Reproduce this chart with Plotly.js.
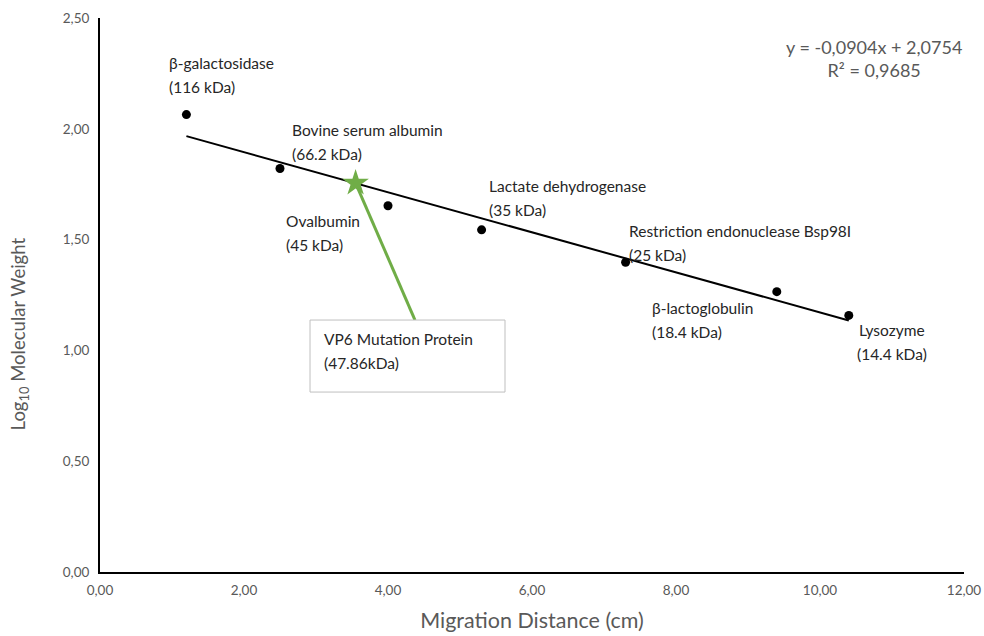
<!DOCTYPE html>
<html>
<head>
<meta charset="utf-8">
<script src="https://cdn.plot.ly/plotly-3.0.1.min.js"></script>
<style>html,body{margin:0;padding:0;background:#fff;}#chart{width:984px;height:636px;}</style>
</head>
<body>
<div id="chart"></div>
<script>
// Marker proteins
const proteins = ["β-galactosidase", "Bovine serum albumin", "Ovalbumin", "Lactate dehydrogenase", "Restriction endonuclease Bsp98I", "β-lactoglobulin", "Lysozyme"];
const weights = ["116 kDa", "66.2 kDa", "45 kDa", "35 kDa", "25 kDa", "18.4 kDa", "14.4 kDa"];
const migration = [1.2, 2.5, 4.0, 5.3, 7.3, 9.4, 10.4];
const logMW = [2.064, 1.821, 1.653, 1.544, 1.398, 1.265, 1.158];

// Linear trendline (endpoints)
const trendX = [1.2, 10.4];
const trendY = [1.967, 1.135];
const equationText = "y = -0,0904x + 2,0754<br>R² = 0,9685";

// VP6 mutation protein
const vp6X = [3.55];
const vp6Y = [1.755];
const vp6Lines = ["VP6 Mutation Protein", "(47.86kDa)"];
const vp6Box = {x0: 2.917, x1: 5.625, y0: 0.812, y1: 1.137};
const vp6TextX = 3.08, vp6TextY = 1.10;
const vp6ArrowEnd = [4.375, 1.137];

// label anchors (top of first label line)
const labelX = [0.93, 2.64, 2.56, 5.37, 7.32, 7.64, 11.0];
const labelY = [2.345, 2.045, 1.635, 1.79, 1.59, 1.24, 1.14];
const labelAnchor = ["left","left","left","left","left","left","center"];

const xTicks = [0, 2, 4, 6, 8, 10, 12];
const yTicks = [0, 0.5, 1.0, 1.5, 2.0, 2.5];

const FONT = "Lato, 'Open Sans', sans-serif";
const LINE_GAP = 24;
const traces = [
  {x: trendX, y: trendY, type: "scatter", mode: "lines", line: {color: "#000", width: 2}, hoverinfo: "skip"},
  {x: migration, y: logMW, type: "scatter", mode: "markers", marker: {color: "#000", size: 9}},
  {x: vp6X, y: vp6Y, type: "scatter", mode: "markers", marker: {color: "#70AD47", size: 20, symbol: "star"}}
];

const labelFont = {family: FONT, size: 15.5, color: "#262626"};
const annotations = [];
proteins.forEach((p, i) => {
  annotations.push({
    x: labelX[i], y: labelY[i], xref: "x", yref: "y",
    xanchor: labelAnchor[i], yanchor: "top", text: p, showarrow: false, font: labelFont
  });
  annotations.push({
    x: labelX[i], y: labelY[i], xref: "x", yref: "y", yshift: -LINE_GAP,
    xanchor: labelAnchor[i], yanchor: "top", text: "(" + weights[i] + ")", showarrow: false, font: labelFont
  });
});
annotations.push({
  x: 1, y: 1.0, xref: "paper", yref: "paper", xanchor: "right", yanchor: "top",
  yshift: -16, align: "center", text: equationText, showarrow: false,
  font: {family: FONT, size: 18, color: "#595959"}
});
vp6Lines.forEach((t, i) => {
  annotations.push({
    x: vp6TextX, y: vp6TextY, xref: "x", yref: "y", yshift: -LINE_GAP * i,
    xanchor: "left", yanchor: "top", text: t, showarrow: false,
    font: {family: FONT, size: 15.5, color: "#262626"}
  });
});
annotations.push({
  x: -0.093, y: 0.43, xref: "paper", yref: "paper", xanchor: "center", yanchor: "middle",
  textangle: -90, text: "Log<sub>10</sub> Molecular Weight", showarrow: false,
  font: {family: FONT, size: 18.5, color: "#595959"}
});

const layout = {
  width: 984, height: 636,
  margin: {l: 100, r: 20, t: 18, b: 64},
  paper_bgcolor: "#fff", plot_bgcolor: "#fff",
  separators: ",.",
  showlegend: false,
  xaxis: {
    range: [0, 12], tickvals: xTicks, tickformat: ".2f",
    showgrid: false, zeroline: false, showline: true, linecolor: "#000", linewidth: 2,
    ticks: "outside", ticklen: 5, tickcolor: "rgba(0,0,0,0)",
    tickfont: {family: FONT, size: 13.5, color: "#595959"},
    title: {text: "Migration Distance (cm)", standoff: 16, font: {family: FONT, size: 21.5, color: "#595959"}}
  },
  yaxis: {
    range: [0, 2.5], tickvals: yTicks, tickformat: ".2f",
    showgrid: false, zeroline: false, showline: true, linecolor: "#000", linewidth: 2,
    ticks: "outside", ticklen: 6, tickcolor: "rgba(0,0,0,0)",
    tickfont: {family: FONT, size: 13.5, color: "#595959"}
  },
  shapes: [
    {
      type: "line", xref: "x", yref: "y",
      x0: vp6X[0], y0: vp6Y[0], x1: vp6ArrowEnd[0], y1: vp6ArrowEnd[1],
      line: {color: "#70AD47", width: 3}, layer: "below"
    },
    {
      type: "rect", xref: "x", yref: "y",
      x0: vp6Box.x0, x1: vp6Box.x1, y0: vp6Box.y0, y1: vp6Box.y1,
      line: {color: "#BFBFBF", width: 1}, fillcolor: "#fff", layer: "below"
    }
  ],
  annotations: annotations
};

Plotly.newPlot("chart", traces, layout, {displayModeBar: false, staticPlot: true});
</script>
</body>
</html>
